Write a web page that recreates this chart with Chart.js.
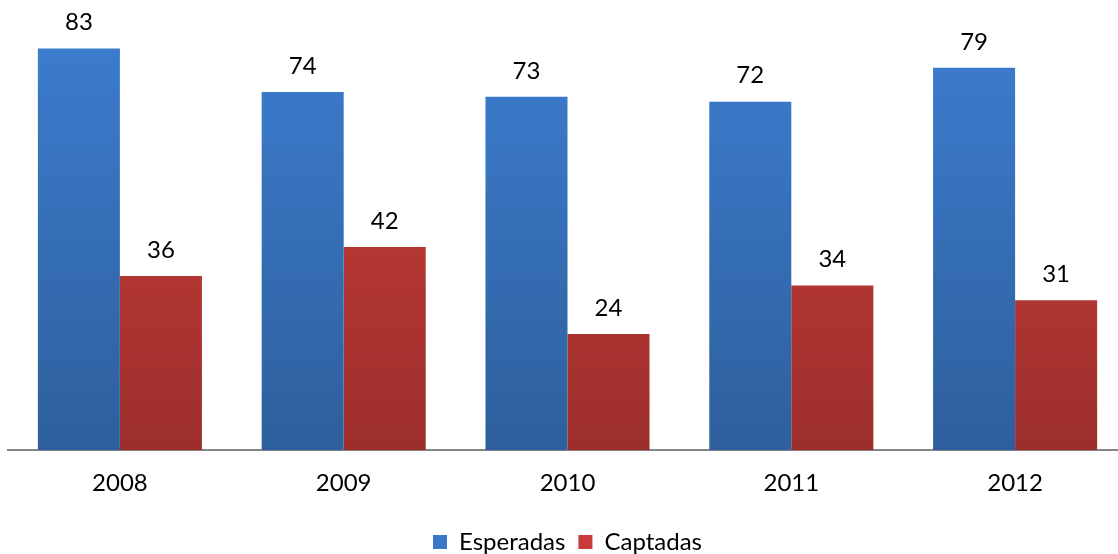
<!DOCTYPE html>
<html>
<head>
<meta charset="utf-8">
<script src="https://cdn.jsdelivr.net/npm/chart.js@4/dist/chart.umd.min.js"></script>
<style>
  html, body { margin: 0; padding: 0; background: #fff; overflow: hidden; }
  #wrap { width: 1127px; height: 554px; }
</style>
</head>
<body>
<div id="wrap"><canvas id="myChart" width="1127" height="554"></canvas></div>
<script>
const years = ['2008', '2009', '2010', '2011', '2012'];
const esperadas = [83, 74, 73, 72, 79];
const captadas = [36, 42, 24, 34, 31];

const FONT = "Lato, 'Open Sans', sans-serif";

function grad(ctx, top, bottom) {
  const area = ctx.chart.chartArea;
  if (!area) return top;
  const g = ctx.chart.ctx.createLinearGradient(0, area.top, 0, area.bottom);
  g.addColorStop(0, top);
  g.addColorStop(1, bottom);
  return g;
}

const valueLabels = {
  id: 'valueLabels',
  afterDatasetsDraw(chart) {
    const c = chart.ctx;
    c.save();
    c.font = '24px ' + FONT;
    c.fillStyle = '#000';
    c.textAlign = 'center';
    c.textBaseline = 'bottom';
    chart.data.datasets.forEach((ds, i) => {
      chart.getDatasetMeta(i).data.forEach((bar, j) => {
        c.fillText(ds.data[j], bar.x, bar.y - 14);
      });
    });
    c.restore();
  }
};

new Chart(document.getElementById('myChart').getContext('2d'), {
  type: 'bar',
  data: {
    labels: years,
    datasets: [
      {
        label: 'Esperadas',
        data: esperadas,
        backgroundColor: ctx => grad(ctx, '#3d7fd3', '#2e5f9c'),
        categoryPercentage: 0.733,
        barPercentage: 1.0
      },
      {
        label: 'Captadas',
        data: captadas,
        backgroundColor: ctx => grad(ctx, '#d3413d', '#9c2e2b'),
        categoryPercentage: 0.733,
        barPercentage: 1.0
      }
    ]
  },
  options: {
    responsive: false,
    animation: false,
    layout: { padding: { left: 8, right: 0, top: 0, bottom: -10 } },
    plugins: {
      legend: {
        position: 'bottom',
        labels: {
          font: { family: FONT, size: 24 },
          color: '#000',
          boxWidth: 14,
          boxHeight: 14,
          padding: 13,
          generateLabels(chart) {
            const cols = ['#3a79c9', '#c83b38'];
            return chart.data.datasets.map((ds, i) => ({
              text: ds.label,
              fillStyle: cols[i],
              strokeStyle: cols[i],
              lineWidth: 0,
              datasetIndex: i,
              hidden: false
            }));
          }
        }
      },
      tooltip: { enabled: false }
    },
    scales: {
      x: {
        grid: { display: false, drawTicks: false },
        border: { display: true, color: '#868686', width: 2 },
        ticks: { font: { family: FONT, size: 24 }, color: '#000', padding: 19 }
      },
      y: {
        display: false,
        min: 0,
        max: 93
      }
    }
  },
  plugins: [valueLabels]
});
</script>
</body>
</html>
